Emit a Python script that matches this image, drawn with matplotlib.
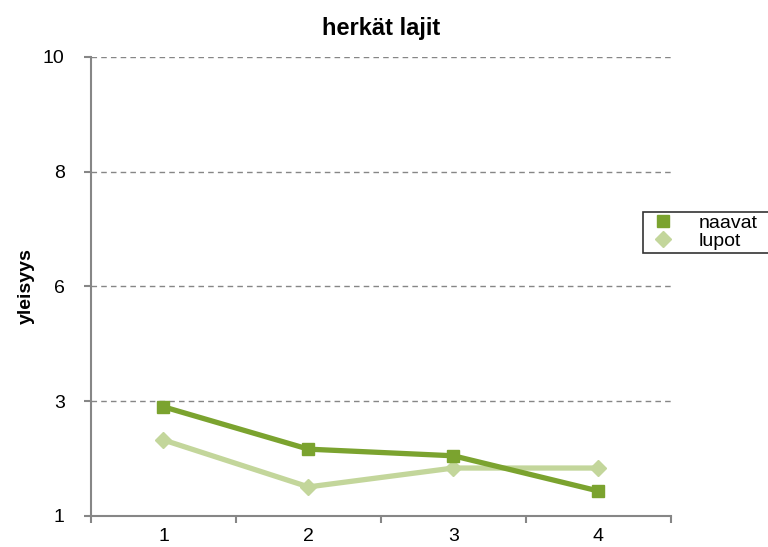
import matplotlib.pyplot as plt

plt.rcParams['font.family'] = ['Liberation Sans', 'DejaVu Sans']

# Data
x = [1, 2, 3, 4]
naavat = [3.14, 2.31, 2.18, 1.49]
lupot = [2.49, 1.57, 1.94, 1.94]
y_ticks = [1, 3.25, 5.5, 7.75, 10]
y_labels = ['1', '3', '6', '8', '10']

fig = plt.figure(figsize=(7.68, 5.47), dpi=100)
ax = fig.add_axes([0.1185, 0.0567, 0.755, 0.8393])

ax.plot(x, naavat, color='#7BA32F', lw=3.8, marker='s', ms=8.5, label='naavat', zorder=3)
ax.plot(x, lupot, color='#C3D69B', lw=3.8, marker='D', ms=8.5, label='lupot', zorder=2)

ax.set_xlim(0.5, 4.5)
ax.set_ylim(1, 10)
ax.set_yticks(y_ticks)
ax.set_yticklabels(y_labels)
ax.set_xticks(x)
ax.set_xticks([0.5, 1.5, 2.5, 3.5, 4.5], minor=True)
ax.tick_params(axis='x', which='major', length=0, pad=9, labelsize=14)
ax.tick_params(axis='x', which='minor', length=5, color='#868686', width=1.5, direction='out')
ax.tick_params(axis='y', length=5, color='#868686', width=1.5, direction='out', pad=14, labelsize=14)

for gy in y_ticks[1:]:
    ax.axhline(gy, color='#868686', lw=1, ls=(0, (4, 3)), zorder=1)

for s in ['top', 'right']:
    ax.spines[s].set_visible(False)
for s in ['left', 'bottom']:
    ax.spines[s].set_color('#868686')
    ax.spines[s].set_linewidth(1.5)

ax.set_ylabel('yleisyys', fontsize=14, fontweight='bold', labelpad=6)
ax.set_title('herkät lajit', fontsize=17, fontweight='bold', pad=16)

# legend box runs off the right edge of the figure
fig.legend(loc='upper left', bbox_to_anchor=(0.837, 0.535, 0.2, 0.078), mode='expand',
           frameon=True, fancybox=False, edgecolor='black', fontsize=14, handlelength=1.8,
           borderpad=0.15, labelspacing=0.0, handletextpad=0.9, borderaxespad=0)
for ln in fig.legends[0].get_lines():
    ln.set_linewidth(0)
fig.legends[0].get_frame().set_linewidth(1.2)

fig.savefig('out.png', dpi=100)
